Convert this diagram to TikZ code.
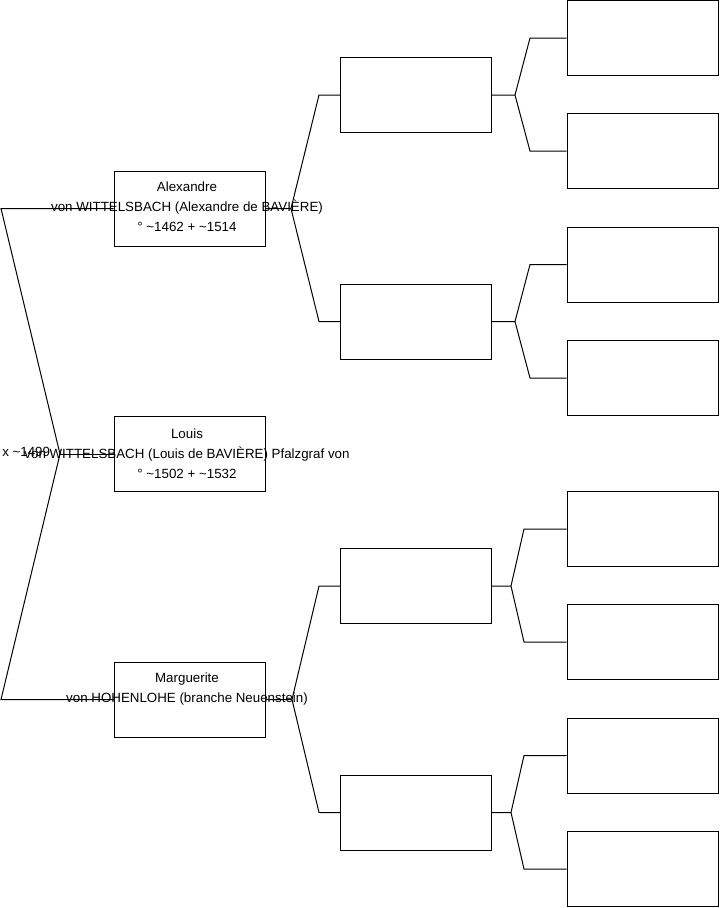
\documentclass[tikz,border=0pt]{standalone}
\usepackage{fontspec}
\setmainfont{Liberation Sans}
\usetikzlibrary{positioning}

\tikzset{
  box/.style={draw,line width=0.75pt,minimum width=113.25pt,minimum height=56.25pt,inner sep=0pt},
  txt/.style={font=\fontsize{10}{15}\selectfont,align=center,anchor=north,inner sep=0pt},
  link/.style={line width=0.75pt}
}

\begin{document}
\begin{tikzpicture}[x=0.75pt,y=-0.75pt]
  \useasboundingbox (0,0) rectangle (719,908);

  % persons
  \node[box] (s1) at (189.5,454) {};
  \node[box] (s2) at (189.5,208.5) {};
  \node[box] (s3) at (189.5,699.5) {};
  \foreach \n/\y in {4/95,5/321.5,6/586,7/812.5}
    \node[box] (s\n) at (416,\y) {};
  \foreach \n/\y in {8/38,9/151,10/264.5,11/378,12/529,13/642,14/755.5,15/869}
    \node[box] (s\n) at (642.5,\y) {};

  % texts
  \node[txt] (s1t) at (187,429) {Louis\\von WITTELSBACH (Louis de BAVIÈRE) Pfalzgraf von\\° \textasciitilde1502 + \textasciitilde1532};
  \node[txt] (s2t) at (187,182) {Alexandre\\von WITTELSBACH (Alexandre de BAVIÈRE)\\° \textasciitilde1462 + \textasciitilde1514};
  \node[txt] (s3t) at (187,673) {Marguerite\\von HOHENLOHE (branche Neuenstein)};
  \node[txt,anchor=west] (wed) at (2,452) {x \textasciitilde1499};

  % forks
  \coordinate (v1) at (60,454);
  \coordinate (b2) at (1,208.5);
  \coordinate (b3) at (1,699.5);
  \coordinate (v2) at (291,208.5);
  \coordinate (b4) at (319,95);
  \coordinate (b5) at (319,321.5);
  \coordinate (v3) at (292,699.5);
  \coordinate (b6) at (319,586);
  \coordinate (b7) at (319,812.5);
  \coordinate (v4) at (515,95);
  \coordinate (b8) at (530,38);
  \coordinate (b9) at (530,151);
  \coordinate (v5) at (515,321.5);
  \coordinate (b10) at (530,264.5);
  \coordinate (b11) at (530,378);
  \coordinate (v6) at (511,586);
  \coordinate (b12) at (524,529);
  \coordinate (b13) at (524,642);
  \coordinate (v7) at (511,812.5);
  \coordinate (b14) at (524,755.5);
  \coordinate (b15) at (524,869);

  \draw[link] (s2.west) -- (b2) -- (v1) -- (b3) -- (s3.west);
  \draw[link] (v1) -- (s1.west);
  \foreach \p/\f/\m in {2/4/5,3/6/7,4/8/9,5/10/11,6/12/13,7/14/15}
    \draw[link] (s\p.east) -- (v\p) (s\f.west) -- (b\f) -- (v\p) -- (b\m) -- (s\m.west);
\end{tikzpicture}
\end{document}
